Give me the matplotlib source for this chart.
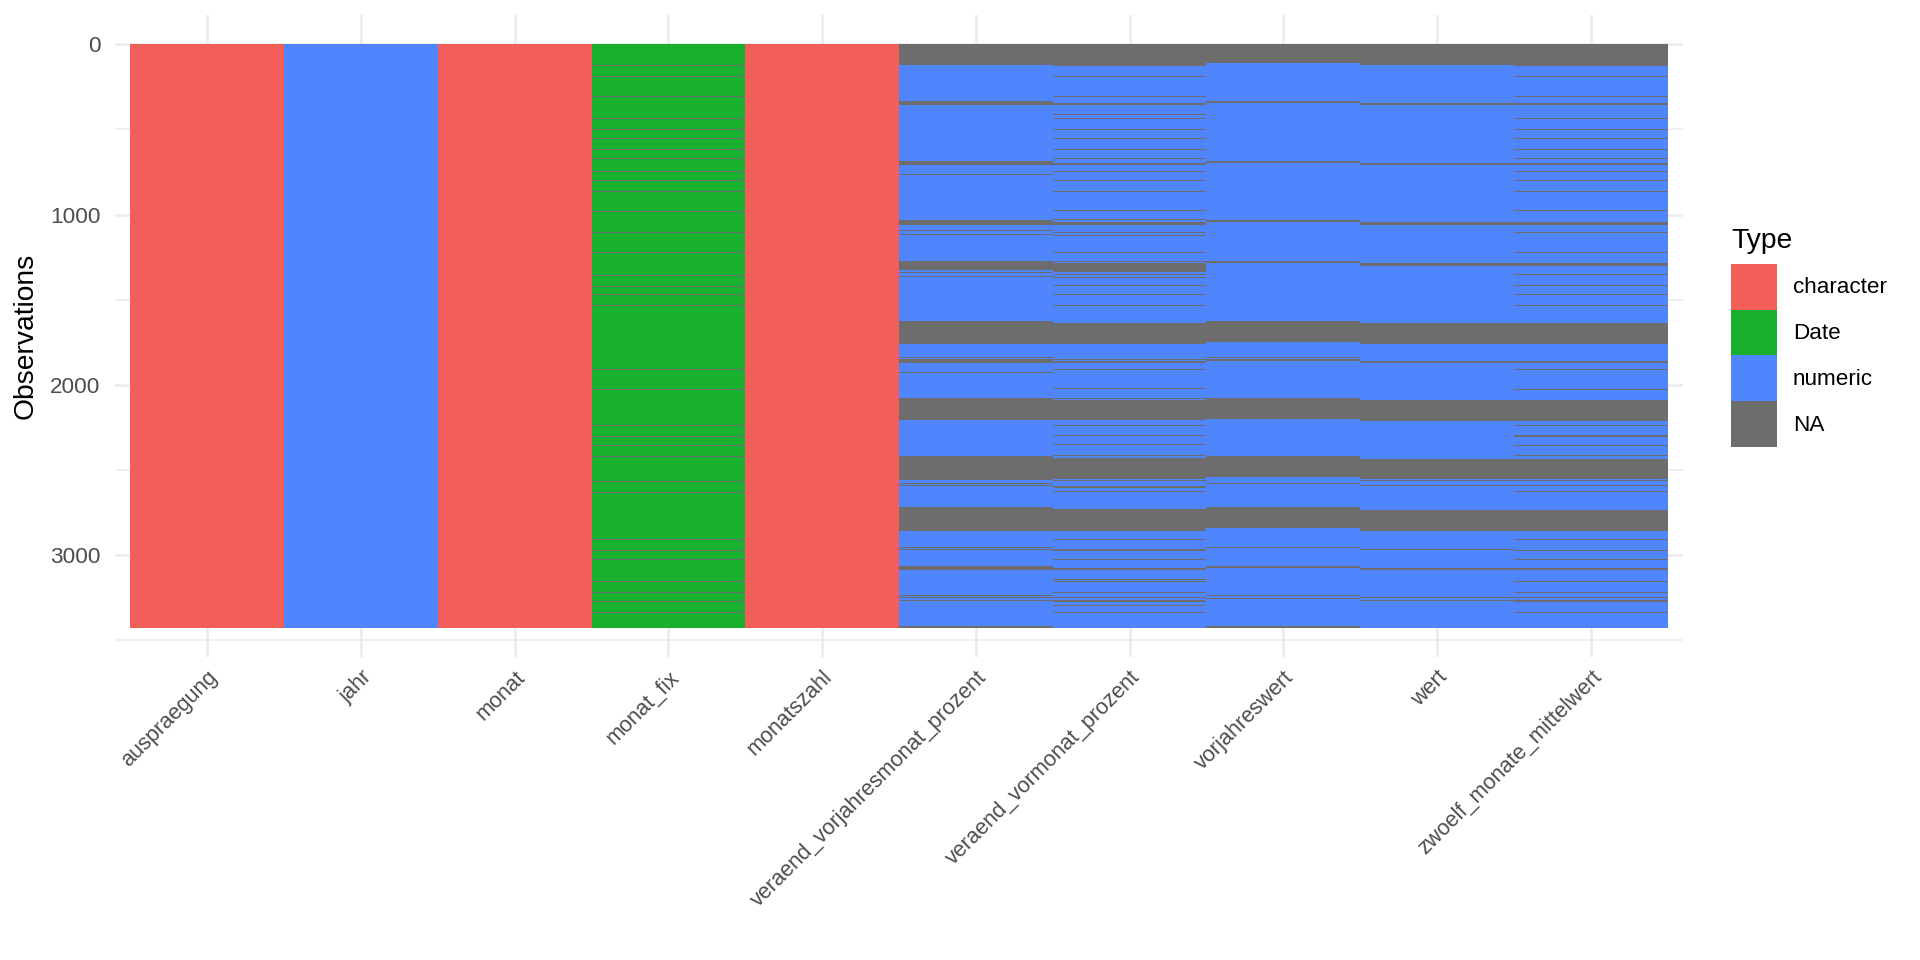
import matplotlib
matplotlib.use("Agg")
import matplotlib.pyplot as plt
from matplotlib.patches import Patch

plt.rcParams['font.family'] = ['Liberation Sans', 'DejaVu Sans']

# ---- data ----
n_rows = 3426

columns = ["auspraegung", "jahr", "monat", "monat_fix", "monatszahl",
           "veraend_vorjahresmonat_prozent", "veraend_vormonat_prozent",
           "vorjahreswert", "wert", "zwoelf_monate_mittelwert"]
col_types = ["character", "numeric", "character", "Date", "character",
             "numeric", "numeric", "numeric", "numeric", "numeric"]

type_levels = ["character", "Date", "numeric", "NA"]
type_colors = ["#F25E5A", "#19B02F", "#4F86FE", "#6D6D6D"]

# NA blocks (first row, last row) and single NA rows, per column
monat_fix_na_rows = [125, 190, 307, 435, 501, 554, 618, 669, 747, 800, 864, 981,
                     1108, 1225, 1355, 1420, 1472, 1536, 1909, 2026, 2238, 2302,
                     2355, 2419, 2565, 2630, 2909, 2973, 3026, 3154, 3218, 3271, 3335]

vorjahresmonat_na_blocks = [(0, 124), (334, 357), (685, 708), (1030, 1059), (1275, 1328),
                            (1626, 1761), (1848, 1872), (2076, 2209), (2415, 2550),
                            (2719, 2860), (3064, 3088), (3415, 3426)]
vorjahresmonat_na_rows = [763, 1096, 1120, 1340, 1365, 1839, 1926, 2558, 2581, 2593,
                          2955, 2967, 3234, 3246, 3263]

vormonat_na_blocks = [(0, 130), (344, 355), (697, 708), (1042, 1059), (1285, 1340),
                      (1638, 1761), (1860, 1872), (2088, 2209), (2431, 2550), (2560, 2567),
                      (2591, 2603), (2731, 2860), (2965, 2977), (3076, 3088), (3263, 3275)]
vormonat_na_rows = [190, 307, 410, 435, 500, 552, 617, 669, 745, 798, 862, 979, 1032,
                    1106, 1125, 1225, 1275, 1351, 1369, 1418, 1470, 1535, 1850, 1907,
                    2024, 2078, 2236, 2298, 2351, 2417, 2628, 2908, 3025, 3142, 3154,
                    3218, 3247, 3296, 3335]

vorjahreswert_na_blocks = [(0, 112), (334, 345), (685, 696), (1030, 1042), (1275, 1287),
                           (1626, 1749), (1848, 1860), (2076, 2199), (2415, 2538),
                           (2719, 2842), (3064, 3076), (3415, 3426)]
vorjahreswert_na_rows = [1839, 2581, 2955, 3234, 3253]

wert_na_blocks = [(0, 124), (346, 357), (697, 708), (1042, 1059), (1287, 1304),
                  (1638, 1761), (1860, 1872), (2088, 2211), (2433, 2550),
                  (2737, 2860), (3076, 3088)]
wert_na_rows = [2560, 2591, 2967, 3246, 3265]

zwoelf_na_blocks = [(0, 130), (346, 357), (697, 708), (1042, 1059), (1287, 1304),
                    (1638, 1761), (1860, 1872), (2088, 2211), (2433, 2550), (2560, 2567),
                    (2737, 2860), (2967, 2975), (3076, 3088), (3265, 3275)]
zwoelf_na_rows = [190, 307, 435, 500, 552, 617, 669, 745, 798, 862, 979, 1108, 1225,
                  1353, 1418, 1470, 1535, 1909, 2026, 2236, 2300, 2353, 2417, 2591,
                  2628, 2908, 3026, 3154, 3218, 3246, 3336]

na_blocks = [[], [], [], [], [],
             vorjahresmonat_na_blocks, vormonat_na_blocks, vorjahreswert_na_blocks,
             wert_na_blocks, zwoelf_na_blocks]
na_rows = [[], [], [], monat_fix_na_rows, [],
           vorjahresmonat_na_rows, vormonat_na_rows, vorjahreswert_na_rows,
           wert_na_rows, zwoelf_na_rows]

# ---- plot ----
W, H = 1920, 960
fig = plt.figure(figsize=(W / 100, H / 100), dpi=100)
ax = fig.add_axes([115 / W, 1 - 657 / H, (1683 - 115) / W, (657 - 15) / H])

color_of = dict(zip(type_levels, type_colors))
na_col = color_of["NA"]
line_rows = 6  # single NA rows show up as ~1px lines

for i, name in enumerate(columns):
    x = i + 1
    ax.bar(x, n_rows, bottom=0, width=1, color=color_of[col_types[i]],
           linewidth=0, antialiased=False, zorder=2)
    for (a, b) in na_blocks[i]:
        ax.bar(x, b - a, bottom=a, width=1, color=na_col, linewidth=0,
               antialiased=False, zorder=3)
    for r in na_rows[i]:
        ax.bar(x, line_rows, bottom=r - line_rows / 2, width=1, color=na_col,
               linewidth=0, antialiased=False, zorder=3)

ax.set_xlim(0.4, len(columns) + 0.6)
pad_y = 0.05 * n_rows
ax.set_ylim(n_rows + pad_y, -pad_y)

ax.set_yticks([0, 1000, 2000, 3000])
ax.set_yticks([500, 1500, 2500, 3500], minor=True)
ax.set_xticks(range(1, len(columns) + 1))
ax.set_xticklabels(columns, rotation=45, ha='right', va='top', rotation_mode='anchor',
                   fontsize=15.7)

ax.grid(True, which='major', color='#EBEBEB', linewidth=1.8, zorder=0)
ax.grid(True, which='minor', axis='y', color='#EBEBEB', linewidth=1.1, zorder=0)
ax.set_axisbelow(True)
for s in ax.spines.values():
    s.set_visible(False)
ax.tick_params(axis='both', which='both', length=0, colors='#4D4D4D')
ax.tick_params(axis='y', labelsize=16.2, pad=10.5)
ax.tick_params(axis='x', pad=7)

ax.set_ylabel("Observations", fontsize=20.3, color='black')
ax.yaxis.set_label_coords(-0.0485, 0.5)

handles = [Patch(facecolor=c, edgecolor='none', label=l) for l, c in zip(type_levels, type_colors)]
leg = fig.legend(handles=handles, title="Type", loc='upper left',
                 bbox_to_anchor=(1731 / W, 1 - 228 / H), frameon=False,
                 fontsize=16.2, title_fontsize=20.3, handlelength=2.04,
                 handleheight=2.76, labelspacing=0, handletextpad=0.7,
                 borderpad=0, borderaxespad=0, alignment='left')
leg._legend_box.sep = 7

fig.savefig("out.png", dpi=100)
